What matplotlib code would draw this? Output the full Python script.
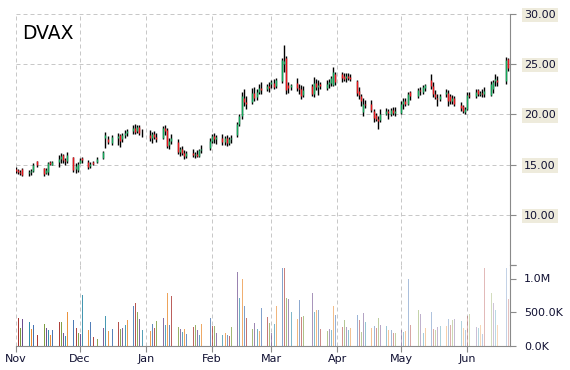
import numpy as np
import pandas as pd
import matplotlib
matplotlib.use("Agg")
import matplotlib.pyplot as plt
import matplotlib.dates as mdates

nan = np.nan

# business days Nov 2016 .. Jun 21 2017 (nan = no bar that day)
dates = pd.bdate_range("2016-11-01", "2017-06-21")

opens = [
    14.6, 14.5, 14.3, 14.6, 14.2, 14.3, 14.4, nan, 15.4, 14.7, 14.2, 14.3, 15.3, 15.0, 15.3, 15.6, 16.0, 15.5, 15.4, 15.8, 14.6, 14.5,  # Nov
    15.2, 15.7, 15.3, 14.9, 15.3, nan, 15.3, 15.7, 17.6, 17.5, nan, 17.2, 17.6, 17.9, 17.5, 17.9, 18.1, 18.3, 18.6, 18.3, 18.7, 18.2,  # Dec
    nan, 17.9, 17.6, 18.0, 17.7, 17.6, 18.6, 18.4, 17.0, 17.4, 17.3, 16.3, 16.6, 16.2, 15.9, 16.2, 16.0, 16.1, 15.9, 16.5, nan, 16.7,  # Jan
    17.4, 17.8, 17.5, 17.6, 17.3, 17.6, 17.2, 17.5, 17.9, 19.0, 19.8, 21.6, 21.2, 21.2, 22.1, 21.7, 22.2, 22.6, 22.5, 22.8,  # Feb
    23.0, 23.1, 22.8, 23.3, 25.0, 25.6, 22.9, 22.7, 23.1, 22.6, 22.5, 21.9, nan, 22.8, 22.0, 23.1, 22.7, 23.0, 22.6, 23.0, 23.1, 22.9, 24.0,  # Mar
    24.0, 23.8, 23.6, 23.8, 23.7, 23.3, 22.3, 21.8, 20.2, 21.0, 21.0, 20.3, 19.9, 19.5, 19.4, 20.0, 20.3, 20.0, 20.4, 20.1,  # Apr
    20.1, 21.0, 21.3, 21.0, 22.2, nan, 21.8, 22.4, 22.2, 22.6, 23.4, 22.8, 22.0, 21.6, 21.5, 22.0, 22.1, 21.8, 21.3, 21.6, 20.9, 20.8, 20.2,  # May
    20.5, 21.9, 21.8, 22.4, 22.0, 22.1, 22.0, 21.9, 22.5, 23.3, 23.4, nan, 23.3, 25.5, nan,  # Jun
]
highs = [
    14.8, 14.6, 14.5, 14.7, 14.5, 14.6, 15.2, nan, 15.4, 14.7, 14.7, 15.3, 15.4, 15.4, 16.0, 16.2, 16.1, 15.7, 16.3, 15.8, 15.2, 15.3,
    15.7, 15.8, 15.5, 15.3, 15.4, nan, 15.8, 16.4, 18.2, 17.8, nan, 17.9, 18.1, 18.0, 18.1, 18.4, 18.5, 18.9, 19.0, 18.9, 18.9, 18.5,
    nan, 18.4, 18.2, 18.3, 18.1, 18.8, 18.9, 18.6, 17.6, 18.0, 17.5, 16.8, 16.9, 16.5, 16.4, 16.6, 16.3, 16.5, 16.6, 17.0, nan, 17.6,
    18.0, 18.1, 17.9, 18.0, 17.8, 17.9, 17.7, 17.9, 19.2, 20.0, 22.2, 22.5, 21.8, 22.6, 22.7, 22.5, 23.0, 23.2, 23.0, 23.2,
    23.4, 23.5, 23.6, 25.6, 26.9, 25.8, 23.2, 23.0, 23.6, 23.0, 22.9, 22.8, nan, 23.0, 23.7, 23.5, 23.4, 23.2, 23.4, 23.5, 23.8, 24.7, 24.2,
    24.2, 24.1, 24.1, 24.1, 24.0, 23.4, 22.7, 22.0, 21.6, 21.4, 21.4, 20.5, 20.1, 19.8, 20.5, 20.6, 20.5, 20.6, 20.7, 20.7,
    21.3, 21.6, 21.6, 22.2, 22.3, nan, 22.6, 22.7, 22.9, 23.0, 24.0, 23.2, 22.4, 22.0, 22.0, 22.5, 22.4, 22.0, 21.9, 21.8, 21.2, 20.9, 20.7,
    22.2, 22.2, 22.5, 22.5, 22.3, 22.5, 22.7, 23.3, 23.4, 24.0, 23.8, nan, 25.7, 25.6, nan,
]
lows = [
    14.2, 14.1, 14.0, 13.9, 13.9, 14.0, 14.3, nan, 14.8, 13.9, 14.1, 14.0, 15.0, 15.0, 14.8, 15.2, 15.2, 15.0, 15.2, 14.3, 14.2, 14.3,
    15.2, 15.2, 14.6, 14.7, 15.0, nan, 15.2, 15.6, 16.7, 17.1, nan, 17.0, 17.0, 16.8, 17.3, 17.6, 17.8, 18.0, 18.0, 18.1, 17.9, 17.7,
    nan, 17.4, 17.2, 17.5, 17.3, 17.5, 17.9, 16.7, 16.6, 17.1, 16.1, 15.9, 16.0, 15.6, 15.7, 15.8, 15.7, 15.8, 15.8, 16.2, nan, 16.5,
    17.2, 17.2, 17.1, 17.0, 17.0, 16.9, 17.0, 17.2, 17.7, 18.8, 19.5, 20.8, 20.5, 21.0, 21.3, 21.4, 22.0, 22.0, 22.3, 22.2,
    22.6, 22.5, 22.6, 23.1, 24.2, 22.0, 22.1, 22.4, 22.3, 22.0, 21.5, 21.7, nan, 21.8, 21.7, 22.4, 21.9, 22.5, 22.4, 22.6, 22.8, 22.8, 22.9,
    23.2, 23.3, 23.2, 23.4, 23.3, 21.8, 21.5, 20.8, 19.8, 20.6, 20.2, 19.2, 19.3, 18.5, 19.2, 19.9, 19.5, 19.8, 19.9, 19.8,
    20.0, 20.5, 20.8, 20.9, 21.4, nan, 21.6, 21.9, 22.0, 22.3, 22.5, 21.7, 21.5, 20.8, 21.3, 21.7, 20.8, 21.0, 21.0, 20.8, 20.3, 20.1, 20.0,
    20.4, 21.6, 21.6, 21.8, 21.8, 21.7, 21.7, 21.8, 22.1, 22.8, 22.8, nan, 23.0, 24.3, nan,
]
closes = [
    14.4, 14.3, 14.2, 14.0, 14.3, 14.4, 15.0, nan, 15.0, 14.1, 14.5, 15.2, 15.1, 15.3, 15.6, 15.9, 15.5, 15.4, 16.0, 14.5, 14.9, 15.1,
    15.5, 15.5, 14.8, 15.1, 15.1, nan, 15.6, 16.3, 17.9, 17.3, nan, 17.7, 17.8, 17.4, 17.9, 18.1, 18.3, 18.6, 18.2, 18.7, 18.1, 18.2,
    nan, 17.6, 18.0, 17.7, 17.5, 18.6, 18.3, 16.9, 17.4, 17.6, 16.3, 16.6, 16.2, 15.9, 16.2, 16.0, 16.1, 15.9, 16.5, 16.6, nan, 17.4,
    17.8, 17.5, 17.7, 17.3, 17.6, 17.2, 17.5, 17.6, 19.0, 19.8, 21.8, 21.2, 21.0, 22.1, 21.6, 22.2, 22.6, 22.4, 22.8, 22.6,
    23.2, 22.7, 23.4, 25.4, 25.3, 22.4, 22.6, 22.9, 22.6, 22.5, 21.8, 22.4, nan, 22.0, 23.1, 22.7, 22.9, 22.8, 23.0, 23.2, 23.6, 24.2, 23.2,
    23.6, 23.5, 23.8, 23.6, 23.5, 22.1, 21.9, 21.3, 21.0, 20.9, 20.4, 19.6, 19.5, 19.3, 20.0, 20.3, 20.1, 20.4, 20.1, 20.3,
    21.0, 21.3, 21.0, 22.0, 21.8, nan, 22.4, 22.3, 22.7, 22.9, 22.8, 22.0, 21.7, 21.5, 21.8, 22.2, 21.3, 21.3, 21.6, 21.0, 20.6, 20.3, 20.5,
    21.9, 21.8, 22.2, 22.0, 22.1, 22.0, 22.3, 23.0, 23.2, 23.5, 23.2, nan, 25.4, 24.6, nan,
]
# volume in millions of shares
volumes = [
    nan, 0.41, 0.27, 0.40, 0.35, 0.25, 0.31, nan, 0.16, 0.32, 0.27, 0.24, 0.16, 0.24, 0.35, 0.35, 0.20, 0.15, 0.50, 0.38, 0.27, 0.20,
    0.18, 0.76, 0.24, 0.35, 0.13, nan, 0.10, 0.26, 0.44, 0.22, nan, 0.25, 0.35, 0.25, 0.27, 0.31, 0.38, 0.60, 0.64, 0.50, 0.40, 0.24,
    nan, 0.22, 0.32, 0.26, 0.37, 0.41, 0.31, 0.78, 0.31, 0.74, 0.28, 0.25, 0.21, 0.25, 0.18, 0.28, 0.31, 0.24, 0.16, 0.32, nan, 0.41,
    0.29, 0.29, 0.19, 0.16, 0.19, 0.16, 0.15, 0.28, 1.09, 0.71, 0.99, 0.60, 0.41, 0.25, 0.34, 0.25, 0.22, 0.56, 0.43, 0.34,
    0.19, 0.32, 0.60, 1.16, 1.16, 0.71, 0.69, 0.50, 0.40, 0.68, 0.43, 0.44, nan, 0.78, 0.51, 0.53, 0.53, 0.25, 0.22, 0.25, 0.24, 0.59, 0.46,
    0.28, 0.38, 0.28, 0.24, 0.26, 0.46, 0.38, 0.21, 0.49, 0.35, 0.26, 0.29, 0.26, 0.41, 0.31, 0.29, 0.23, 0.24, 0.20, 0.19,
    0.24, 0.21, 0.22, 1.00, 0.31, nan, 0.53, 0.47, 0.19, 0.26, 0.50, 0.25, 0.24, 0.28, 0.29, 0.29, 0.40, 0.31, 0.38, 0.40, 0.37, 0.26, 0.24,
    0.44, 0.47, 0.28, 0.26, 0.31, 0.18, 1.16, 0.78, 0.63, 0.53, 0.31, nan, 1.16, 0.69, nan,
]

ticker = "DVAX"
price_ticks = [5, 10, 15, 20, 25, 30]
price_labels = ["", "10.00", "15.00", "20.00", "25.00", "30.00"]
vol_ticks = [0, 0.5, 1.0, 1.2]
vol_labels = ["0.0K", "500.0K", "1.0M", ""]
vol_palette = ["#3F6FB0", "#A8322D", "#7A9A3A", "#6A4A8C", "#2E8BA8", "#E98A2E"]

UP, DOWN = "#12A85A", "#E8161B"
GRID = "#C8C8C8"
AXIS = "#8A8A8A"
LABEL_BG = "#EEEBDC"
PX = 0.72  # one pixel in points at 100 dpi

o, h, l, c = (np.array(a, dtype=float) for a in (opens, highs, lows, closes))
vol = np.array(volumes, dtype=float)
x = mdates.date2num(dates)
assert len(x) == len(o) == len(h) == len(l) == len(c) == len(vol)

W, H = 570, 370
fig = plt.figure(figsize=(W / 100, H / 100), dpi=100)
left, right = 16, 510
ax = fig.add_axes([left / W, 1 - 265 / H, (right - left) / W, (265 - 14) / H])
axv = fig.add_axes([left / W, 1 - 346 / H, (right - left) / W, (346 - 265) / H], sharex=ax)

# candles: thin black high-low wick, slightly wider coloured open-close body
ok = ~np.isnan(c)
ax.vlines(x[ok], l[ok], h[ok], color="black", lw=1.4 * PX, zorder=3)
body_cols = [UP if cc >= oo else DOWN for oo, cc in zip(o[ok], c[ok])]
ax.vlines(x[ok], o[ok], c[ok], colors=body_cols, lw=1.4 * PX, zorder=4)

# volume bars: palette cycles bar by bar and fades towards the right
idx = np.cumsum(ok) - 1
alphas = np.linspace(1.0, 0.3, len(x))
vcols = [matplotlib.colors.to_rgba(vol_palette[i % 6], a) for i, a in zip(idx, alphas)]
vk = ~np.isnan(vol)
axv.vlines(x[vk], 0, vol[vk], colors=[vcols[i] for i in np.nonzero(vk)[0]],
           lw=PX, antialiased=False, zorder=3)

ax.set_xlim(mdates.date2num(pd.Timestamp("2016-11-01")),
            mdates.date2num(pd.Timestamp("2017-06-21")) + 0.1)
ax.set_ylim(5, 30)
axv.set_ylim(0, 1.2)

axv.xaxis.set_major_locator(mdates.MonthLocator())
axv.xaxis.set_major_formatter(mdates.DateFormatter("%b"))

for a in (ax, axv):
    a.yaxis.tick_right()
    for s in ("top", "left"):
        a.spines[s].set_visible(False)
    a.spines["right"].set_color(AXIS)
    a.tick_params(axis="y", colors=AXIS, length=4, pad=6, labelsize=8, labelcolor="#111133")
    a.set_facecolor("none")
ax.spines["bottom"].set_visible(False)
axv.spines["bottom"].set_color(AXIS)
ax.tick_params(axis="x", length=0, labelbottom=False)
axv.tick_params(axis="x", colors=AXIS, length=4, pad=2, labelsize=8, labelcolor="#111133")

ax.set_yticks(price_ticks)
ax.set_yticklabels(price_labels)
for t in ax.get_yticklabels():
    t.set_bbox(dict(facecolor=LABEL_BG, edgecolor="none", pad=1.5))
axv.set_yticks(vol_ticks)
axv.set_yticklabels(vol_labels)

dash = (0, (4, 3))
ax.grid(True, ls=dash, color=GRID, lw=PX, zorder=0)
axv.grid(True, axis="x", ls=dash, color=GRID, lw=PX, zorder=0)

fig.text(22.5 / W, 1 - 39 / H, ticker, fontsize=13.5, va="baseline", ha="left")

fig.savefig("out.png", dpi=100)
plt.close(fig)
